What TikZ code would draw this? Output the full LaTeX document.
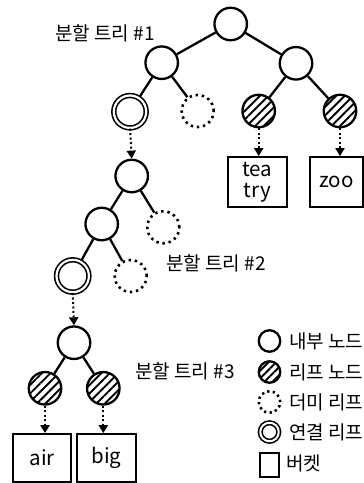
\documentclass[tikz,border=0pt]{standalone}
\usepackage{fontspec}
\setmainfont{Noto Sans CJK KR}
\usetikzlibrary{arrows.meta,patterns.meta,backgrounds}
\begin{document}
\begin{tikzpicture}[x=1pt,y=-1pt,
  tn/.style={circle,draw,line width=2.3pt,minimum size=32.5pt,inner sep=0pt,fill=white},
  leafn/.style={circle,draw,line width=2.3pt,minimum size=32.5pt,inner sep=0pt,
     pattern={Lines[angle=45,distance=6pt,line width=1.9pt]}},
  dumn/.style={circle,draw,line width=2.6pt,dash pattern=on 2.4pt off 3.8pt,minimum size=32pt,inner sep=0pt},
  linkn/.style={circle,draw,line width=1.6pt,double,double distance=2.2pt,minimum size=32.4pt,inner sep=0pt,fill=white},
  edge/.style={line width=2.3pt},
  ptr/.style={line width=2pt,dash pattern=on 2pt off 2.5pt,-{Triangle[width=9pt,length=8pt]}},
  bucket/.style={draw,line width=1.8pt,font=\fontsize{20.5}{21}\selectfont,align=center,minimum height=50pt,inner sep=0pt},
  lbl/.style={font=\fontsize{19}{20}\selectfont,anchor=west,inner sep=0pt},
  lgc/.style={circle,draw,line width=2.3pt,minimum size=21.5pt,inner sep=0pt}]
\useasboundingbox (0,0) rectangle (364,483);
% tree 1
\node[tn] (r) at (230.7,24) {};
\node[tn] (a) at (161.7,62.7) {};
\node[tn] (b) at (296,63.3) {};
\node[linkn] (c1) at (130,111.7) {};
\node[dumn] (c2) at (197.7,111) {};
\node[leafn] (c3) at (258.7,111) {};
\node[leafn] (c4) at (340,111) {};
\node[bucket,minimum width=59pt] (tea) at (257.3,182) {tea\\try};
\node[bucket,minimum width=53.5pt] (zoo) at (336.5,182) {zoo};
% tree 2
\node[tn] (d) at (131.7,176) {};
\node[tn] (e) at (101.7,224) {};
\node[dumn] (e2) at (163.3,227.3) {};
\node[linkn] (f) at (72.7,276) {};
\node[dumn] (f2) at (130.7,276) {};
% tree 3
\node[tn] (g) at (74,342.7) {};
\node[leafn] (h1) at (45,388.3) {};
\node[leafn] (h2) at (103.3,388.3) {};
\node[bucket,minimum width=58pt,minimum height=47.7pt] (air) at (42.3,457.9) {air};
\node[bucket,minimum width=59pt,minimum height=47.7pt] (big) at (106.3,457.9) {big};
% labels
\node[lbl] (l1) at (55,33) {분할 트리 \#1};
\node[lbl] (l2) at (166,263.3) {분할 트리 \#2};
\node[lbl] (l3) at (135,371.7) {분할 트리 \#3};
% edges
\begin{scope}[on background layer]
\draw[edge] (r) -- (a);
\draw[edge] (r) -- (b);
\draw[edge] (a) -- (c1);
\draw[edge] (a) -- (c2);
\draw[edge] (b) -- (c3);
\draw[edge] (b) -- (c4);
\draw[edge] (d) -- (e);
\draw[edge] (d) -- (e2);
\draw[edge] (e) -- (f);
\draw[edge] (e) -- (f2);
\draw[edge] (g) -- (h1);
\draw[edge] (g) -- (h2);
\end{scope}
% pointers
\draw[ptr] (c1.south) -- (d.north);
\draw[ptr] (c3.south) -- (c3.south |- tea.north);
\draw[ptr] (c4.south) -- (c4.south |- zoo.north);
\draw[ptr] (f.south) -- (g.north);
\draw[ptr] (h1.south) -- (h1.south |- air.north);
\draw[ptr] (h2.south) -- (h2.south |- big.north);
% legend
\node[lgc] (k1) at (269.5,341) {};
\node[lgc,pattern={Lines[angle=45,distance=5.5pt,line width=1.9pt]}] (k2) at (269.5,372) {};
\node[lgc,line width=2.6pt,dash pattern=on 2.3pt off 3.3pt] (k3) at (269.5,402) {};
\node[circle,draw,line width=1.6pt,double,double distance=2pt,minimum size=18.5pt,inner sep=0pt] (k4) at (269.5,432) {};
\node[draw,line width=1.8pt,minimum width=19pt,minimum height=24pt,inner sep=0pt] (k5) at (269.5,465) {};
\node[lbl] (t1) at (289,341) {내부 노드};
\node[lbl] (t2) at (289,372) {리프 노드};
\node[lbl] (t3) at (289,402) {더미 리프};
\node[lbl] (t4) at (289,432) {연결 리프};
\node[lbl] (t5) at (286,463) {버켓};
\end{tikzpicture}
\end{document}
